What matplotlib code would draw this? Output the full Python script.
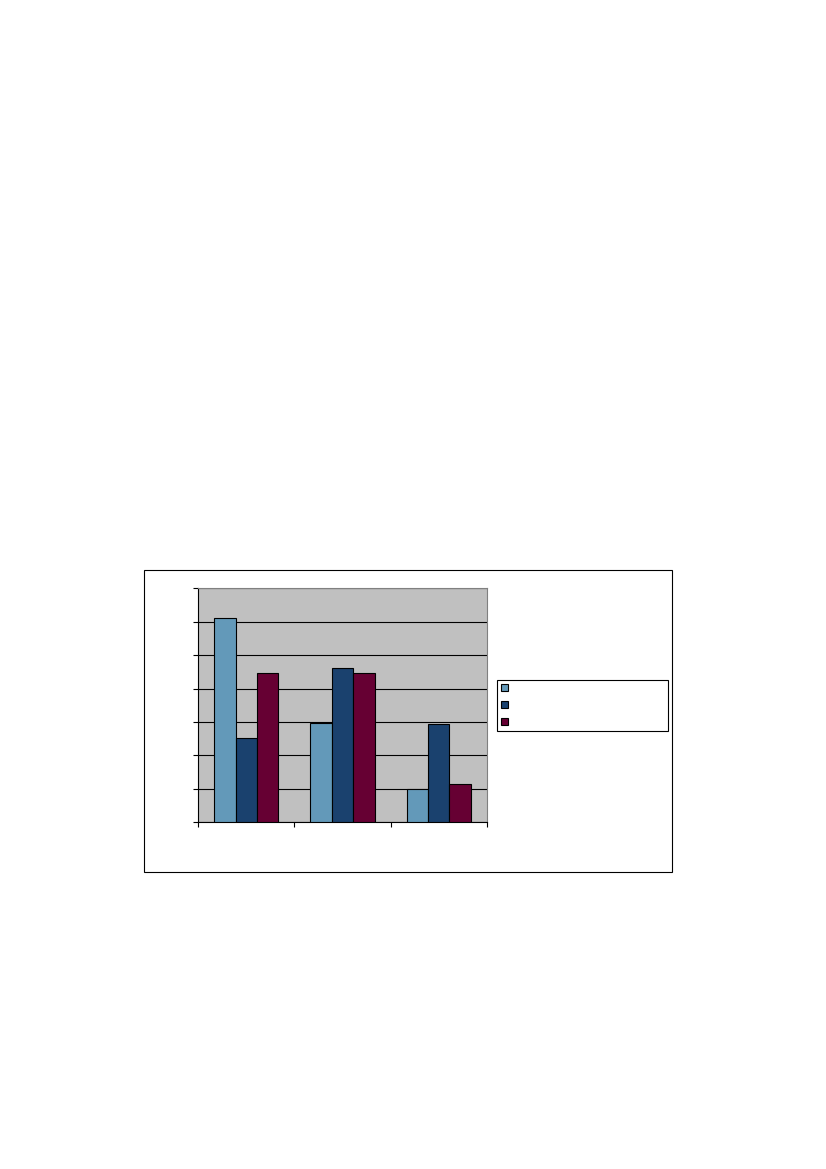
import matplotlib
matplotlib.use("Agg")
import matplotlib.pyplot as plt
from matplotlib.patches import Rectangle
import numpy as np

# values (no text is shown in it)
categories = ["", "", ""]
series_a = [6.1, 2.96, 0.99]
series_b = [2.51, 4.61, 2.93]
series_c = [4.46, 4.46, 1.14]
series_names = ["", "", ""]
colors = ["#6399B9", "#1A416E", "#660033"]

W, H = 826, 1169
fig = plt.figure(figsize=(W / 100, H / 100), dpi=100)

# outer chart frame
fig.patches.append(Rectangle((143.5 / W, 1 - 872 / H), (672 - 143.5) / W, (872 - 569.5) / H,
                             transform=fig.transFigure, fill=False, edgecolor="black", linewidth=0.8))

ax = fig.add_axes([198.3 / W, 1 - 822.3 / H, 288.4 / W, 234 / H])
ax.set_facecolor("#C0C0C0")

x = np.arange(len(categories))
w = 1 / 4.5
bars = []
for i, (vals, col) in enumerate(zip([series_a, series_b, series_c], colors)):
    b = ax.bar(x + (i - 1) * w, vals, width=w, color=col, edgecolor="black",
               linewidth=0.8, zorder=3)
    bars.append(b)

ax.set_xlim(-0.5, len(categories) - 0.5)
ax.set_ylim(0, 7)
ax.set_yticks(range(8))
ax.set_xticks(np.arange(len(categories) + 1) - 0.5)
ax.set_yticklabels([])
ax.set_xticklabels([])
ax.tick_params(direction="out", length=3.6, width=0.8, color="black")
ax.grid(axis="y", color="black", linewidth=0.8, zorder=1)
ax.set_axisbelow(True)
for s in ["top", "right"]:
    ax.spines[s].set_color("#808080")
for s in ["left", "bottom"]:
    ax.spines[s].set_color("black")

leg = fig.legend(bars, series_names, loc="upper left",
                 bbox_to_anchor=(497.3 / W, 1 - 680.7 / H, 171 / W, 0.001),
                 mode="expand", borderaxespad=0, fontsize=8, handlelength=0.6,
                 handleheight=0.6, labelspacing=0.62, borderpad=0.36, handletextpad=0.5,
                 fancybox=False, framealpha=1)
leg.get_frame().set_edgecolor("black")
leg.get_frame().set_linewidth(0.8)

fig.savefig("out.png", dpi=100)
